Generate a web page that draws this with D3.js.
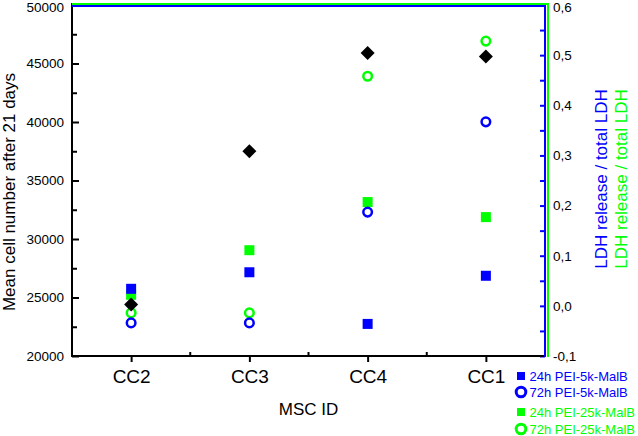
<!DOCTYPE html>
<html>
<head>
<meta charset="utf-8">
<script src="https://cdn.jsdelivr.net/npm/d3@7"></script>
<style>
    body { margin: 0; background: #fff; }
    svg { display: block; font-family: "Liberation Sans", Arial, sans-serif; }
</style>
</head>
<body>
<div class="chart-container"></div>
<script>
const categories = ["CC2", "CC3", "CC4", "CC1"];
const cellNumber = [24400, 37500, 45900, 45600];
const ldh24h5k = [0.034, 0.067, -0.036, 0.06];
const ldh72h5k = [-0.034, -0.034, 0.187, 0.367];
const ldh24h25k = [0.022, 0.111, 0.207, 0.177];
const ldh72h25k = [-0.014, -0.014, 0.458, 0.528];
const leftTicks = [20000, 25000, 30000, 35000, 40000, 45000, 50000];
const rightTicks = [-0.1, 0, 0.1, 0.2, 0.3, 0.4, 0.5, 0.6];
const legendItems = [
    { label: "24h PEI-5k-MalB", color: "#0000ff", shape: "square" },
    { label: "72h PEI-5k-MalB", color: "#0000ff", shape: "circle" },
    { label: "24h PEI-25k-MalB", color: "#00ff00", shape: "square" },
    { label: "72h PEI-25k-MalB", color: "#00ff00", shape: "circle" }
];

const w = 638;
const h = 436;
const plotLeft = 72, plotRight = 545, plotTop = 5, plotBottom = 356;
const blue = "#0000ff";
const green = "#00ff00";

const svg = d3.select(".chart-container")
    .append("svg")
    .attr("width", w)
    .attr("height", h);

const xScale = d3.scalePoint()
    .domain(categories)
    .range([plotLeft, plotRight])
    .padding(0.5);

const yLeft = d3.scaleLinear()
    .domain([20000, 50000])
    .range([plotBottom, plotTop]);

const yRight = d3.scaleLinear()
    .domain([-0.1, 0.6])
    .range([plotBottom, plotTop]);

// left axis
svg.append("g")
    .attr("transform", `translate(${plotLeft},0)`)
    .call(d3.axisLeft(yLeft).tickValues(leftTicks).tickSizeInner(-7).tickSizeOuter(0).tickPadding(8)
        .tickFormat(d3.format("d")))
    .call(g => g.select(".domain").remove())
    .call(g => g.selectAll("line").attr("stroke", "#000").attr("stroke-width", 2))
    .call(g => g.selectAll("text").attr("font-size", 13.5).attr("fill", "#000").attr("font-family", null)
        .filter(d => d === 50000).attr("dy", "0.45em"));

svg.append("g")
    .attr("transform", `translate(${plotLeft},0)`)
    .call(d3.axisLeft(yLeft).tickValues(leftTicks.slice(0, -1).map(d => d + 2500)).tickSizeInner(-5).tickSizeOuter(0).tickFormat(""))
    .call(g => g.select(".domain").remove())
    .call(g => g.selectAll("line").attr("stroke", "#000").attr("stroke-width", 2));

// right axis
svg.append("g")
    .attr("transform", `translate(${plotRight},0)`)
    .call(d3.axisRight(yRight).tickValues(rightTicks).tickSizeInner(-5).tickSizeOuter(0).tickPadding(8)
        .tickFormat(d => d3.format(".1f")(d).replace(".", ",").replace("\u2212", "-")))
    .call(g => g.select(".domain").remove())
    .call(g => g.selectAll("line").attr("stroke", blue).attr("stroke-width", 2))
    .call(g => g.selectAll("text").attr("font-size", 13.5).attr("fill", "#000").attr("font-family", null)
        .filter(d => d === 0.6).attr("dy", "0.45em"));

svg.append("g")
    .attr("transform", `translate(${plotRight},0)`)
    .call(d3.axisRight(yRight).tickValues(rightTicks.slice(0, -1).map(d => d + 0.05)).tickSizeInner(-5).tickSizeOuter(0).tickFormat(""))
    .call(g => g.select(".domain").remove())
    .call(g => g.selectAll("line").attr("stroke", blue).attr("stroke-width", 2));

// bottom axis
svg.append("g")
    .attr("transform", `translate(0,${plotBottom})`)
    .call(d3.axisBottom(xScale).tickSizeInner(6).tickSizeOuter(0).tickPadding(7.5))
    .call(g => g.select(".domain").remove())
    .call(g => g.selectAll("line").attr("stroke", "#000").attr("stroke-width", 2))
    .call(g => g.selectAll("text").attr("font-size", 19).attr("fill", "#000").attr("font-family", null));

const step = xScale.step();
svg.append("g")
    .selectAll("line")
    .data(categories.slice(0, -1))
    .enter()
    .append("line")
    .attr("x1", d => xScale(d) + step / 2)
    .attr("x2", d => xScale(d) + step / 2)
    .attr("y1", plotBottom)
    .attr("y2", plotBottom - 4)
    .attr("stroke", "#000")
    .attr("stroke-width", 2);

// frame
svg.append("line").attr("x1", plotLeft).attr("x2", plotRight).attr("y1", plotBottom).attr("y2", plotBottom)
    .attr("stroke", "#000").attr("stroke-width", 2);
svg.append("line").attr("x1", plotLeft).attr("x2", plotLeft).attr("y1", plotTop - 2).attr("y2", plotBottom + 1)
    .attr("stroke", "#000").attr("stroke-width", 2);
svg.append("line").attr("x1", plotLeft).attr("x2", plotRight + 4).attr("y1", plotTop - 1).attr("y2", plotTop - 1)
    .attr("stroke", green).attr("stroke-width", 2);
svg.append("line").attr("x1", plotLeft).attr("x2", plotRight).attr("y1", plotTop + 1).attr("y2", plotTop + 1)
    .attr("stroke", blue).attr("stroke-width", 2);
svg.append("line").attr("x1", plotRight).attr("x2", plotRight).attr("y1", plotTop).attr("y2", plotBottom + 1)
    .attr("stroke", blue).attr("stroke-width", 2);
svg.append("line").attr("x1", plotRight + 3).attr("x2", plotRight + 3).attr("y1", plotTop - 2).attr("y2", plotBottom + 1)
    .attr("stroke", green).attr("stroke-width", 2);

// markers
const squares = (values, color) => {
    svg.append("g")
        .selectAll("rect")
        .data(values)
        .enter()
        .append("rect")
        .attr("x", (d, i) => xScale(categories[i]) - 5)
        .attr("y", d => yRight(d) - 5)
        .attr("width", 10)
        .attr("height", 10)
        .attr("fill", color);
};

const circles = (values, color) => {
    svg.append("g")
        .selectAll("circle")
        .data(values)
        .enter()
        .append("circle")
        .attr("cx", (d, i) => xScale(categories[i]))
        .attr("cy", d => yRight(d))
        .attr("r", 4.3)
        .attr("fill", "none")
        .attr("stroke", color)
        .attr("stroke-width", 2.5);
};

squares(ldh24h25k, green);
squares(ldh24h5k, blue);
circles(ldh72h25k, green);
circles(ldh72h5k, blue);

svg.append("g")
    .selectAll("path")
    .data(cellNumber)
    .enter()
    .append("path")
    .attr("d", d3.symbol(d3.symbolSquare, 98))
    .attr("transform", (d, i) => `translate(${xScale(categories[i])},${yLeft(d)}) rotate(45)`)
    .attr("fill", "#000");

// axis titles
svg.append("text")
    .attr("transform", "rotate(-90)")
    .attr("x", -192)
    .attr("y", 15)
    .attr("text-anchor", "middle")
    .attr("font-size", 17)
    .attr("fill", "#000")
    .text("Mean cell number after 21 days");

svg.append("text")
    .attr("transform", "translate(607,179) rotate(-90)")
    .attr("text-anchor", "middle")
    .attr("font-size", 17)
    .attr("fill", blue)
    .text("LDH release / total LDH");

svg.append("text")
    .attr("transform", "translate(627,179) rotate(-90)")
    .attr("text-anchor", "middle")
    .attr("font-size", 17)
    .attr("fill", green)
    .text("LDH release / total LDH");

svg.append("text")
    .attr("x", (plotLeft + plotRight) / 2)
    .attr("y", 415)
    .attr("text-anchor", "middle")
    .attr("font-size", 17)
    .attr("fill", "#000")
    .text("MSC ID");

// legend
const legendY = [376, 392, 412, 429];
const legend = svg.append("g")
    .selectAll("g")
    .data(legendItems)
    .enter()
    .append("g")
    .attr("transform", (d, i) => `translate(521,${legendY[i]})`);

legend.filter(d => d.shape === "square")
    .append("rect")
    .attr("x", -4).attr("y", -4)
    .attr("width", 8).attr("height", 8)
    .attr("fill", d => d.color);

legend.filter(d => d.shape === "circle")
    .append("circle")
    .attr("r", 4.8)
    .attr("fill", "none")
    .attr("stroke", d => d.color)
    .attr("stroke-width", 3);

legend.append("text")
    .attr("x", 8.5)
    .attr("y", 4.5)
    .attr("font-size", 13)
    .attr("fill", d => d.color)
    .text(d => d.label);
</script>
</body>
</html>
